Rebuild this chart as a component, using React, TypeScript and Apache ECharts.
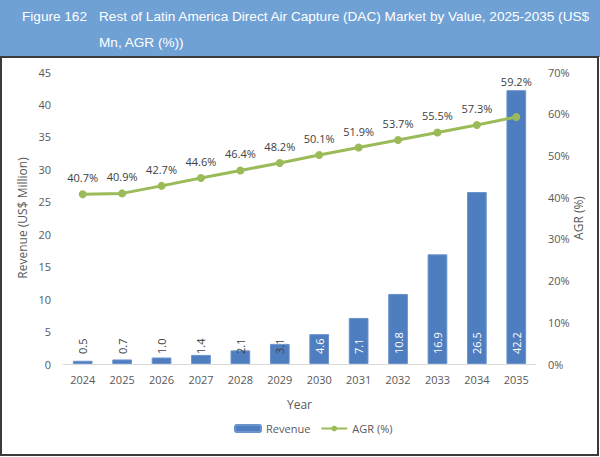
import { useEffect, useRef } from 'react'
import * as echarts from 'echarts'

const years = ['2024', '2025', '2026', '2027', '2028', '2029', '2030', '2031', '2032', '2033', '2034', '2035']
const revenue = [0.5, 0.7, 1.0, 1.4, 2.1, 3.1, 4.6, 7.1, 10.8, 16.9, 26.5, 42.2]
const agr = [40.7, 40.9, 42.7, 44.6, 46.4, 48.2, 50.1, 51.9, 53.7, 55.5, 57.3, 59.2]

const titleLine1 = 'Rest of Latin America Direct Air Capture (DAC) Market by Value, 2025-2035 (US$'
const titleLine2 = 'Mn, AGR (%))'

const FONT = "'Open Sans', 'Noto Sans', sans-serif"
const TITLE_FONT = "13.6px 'Liberation Sans', Arial, sans-serif"
const AXIS_TEXT = '#595959'

export default function App() {
  const chartRef = useRef<HTMLDivElement>(null)

  useEffect(() => {
    if (!chartRef.current) return
    document.body.style.margin = '0'
    const chart = echarts.init(chartRef.current, undefined, { renderer: 'svg' })

    const option: echarts.EChartsOption = {
      animation: false,
      backgroundColor: '#ffffff',
      textStyle: { fontFamily: FONT },
      graphic: [
        {
          type: 'rect',
          shape: { x: 0, y: 0, width: 600, height: 57 },
          style: { fill: '#70a1d5' },
          silent: true
        },
        {
          type: 'rect',
          shape: { x: 1, y: 57, width: 597, height: 398 },
          style: { fill: 'none', stroke: '#3a3a3a', lineWidth: 2 },
          silent: true
        },
        {
          type: 'text',
          x: 22,
          y: 9,
          style: { text: 'Figure 162', fill: '#ffffff', font: TITLE_FONT }
        },
        {
          type: 'text',
          x: 99,
          y: 9,
          style: { text: titleLine1, fill: '#ffffff', font: TITLE_FONT }
        },
        {
          type: 'text',
          x: 99,
          y: 35,
          style: { text: titleLine2, fill: '#ffffff', font: TITLE_FONT }
        }
      ],
      legend: {
        bottom: 18,
        left: 229,
        itemWidth: 26,
        itemHeight: 7,
        itemGap: 10,
        textStyle: { color: AXIS_TEXT, fontSize: 11, fontFamily: FONT },
        data: ['Revenue', 'AGR (%)']
      },
      grid: { left: 63, right: 64, top: 72, bottom: 93 },
      xAxis: {
        type: 'category',
        data: years,
        name: 'Year',
        nameLocation: 'middle',
        nameGap: 34,
        nameTextStyle: { color: AXIS_TEXT, fontSize: 12 },
        axisLine: { lineStyle: { color: '#d9d9d9' } },
        axisTick: { show: false },
        axisLabel: { color: AXIS_TEXT, fontSize: 11, margin: 10 }
      },
      yAxis: [
        {
          type: 'value',
          min: 0,
          max: 45,
          interval: 5,
          name: 'Revenue (US$ Million)',
          nameLocation: 'middle',
          nameGap: 35,
          nameMoveOverlap: false,
          nameTextStyle: { color: AXIS_TEXT, fontSize: 12 },
          splitLine: { show: false },
          axisLine: { show: false },
          axisTick: { show: false },
          axisLabel: { color: AXIS_TEXT, fontSize: 11, margin: 12 }
        } as any,
        {
          type: 'value',
          min: 0,
          max: 70,
          interval: 10,
          name: 'AGR (%)',
          nameLocation: 'middle',
          nameGap: 36,
          nameRotate: 90,
          nameMoveOverlap: false,
          nameTextStyle: { color: AXIS_TEXT, fontSize: 12 },
          splitLine: { show: false },
          axisLine: { show: false },
          axisTick: { show: false },
          axisLabel: { color: AXIS_TEXT, fontSize: 11, margin: 12, formatter: '{value}%' }
        } as any
      ],
      series: [
        {
          name: 'Revenue',
          type: 'bar',
          barWidth: '50%',
          itemStyle: { color: '#4f7ec0', borderColor: '#6b93cc', borderWidth: 1 },
          data: revenue.map(v => ({
            value: v,
            label: { color: v < 4 ? '#404040' : '#ffffff' }
          })),
          label: {
            show: true,
            position: 'insideBottom',
            rotate: 90,
            align: 'left',
            verticalAlign: 'middle',
            distance: 10,
            fontSize: 11,
            formatter: (p: any) => Number(p.value).toFixed(1)
          }
        },
        {
          name: 'AGR (%)',
          type: 'line',
          yAxisIndex: 1,
          data: agr.map((v, i) => (i === agr.length - 1 ? { value: v, label: { distance: 26 } } : v)),
          symbol: 'circle',
          symbolSize: 8,
          lineStyle: { color: '#9bbb59', width: 3 },
          itemStyle: { color: '#9bbb59' },
          z: 3,
          label: {
            show: true,
            position: 'top',
            distance: 7,
            color: '#404040',
            fontSize: 11,
            formatter: (p: any) => `${Number(p.value).toFixed(1)}%`
          }
        }
      ]
    }

    chart.setOption(option)
    return () => chart.dispose()
  }, [])

  return <div ref={chartRef} style={{ width: 600, height: 457 }} />
}
